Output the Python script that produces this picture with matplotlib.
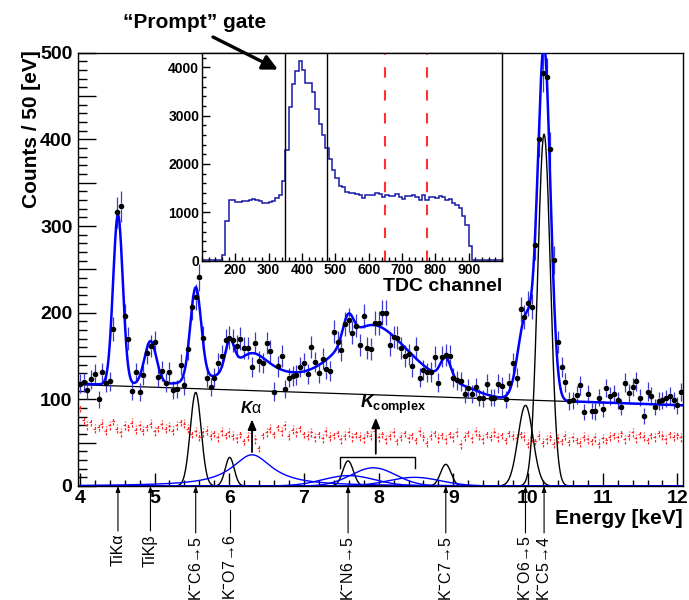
#!/usr/bin/env python3
"""Kaonic X-ray energy spectrum with fitted lines, TDC timing spectrum as inset."""

import matplotlib
matplotlib.use("Agg")
import matplotlib.pyplot as plt
import numpy as np
from matplotlib.ticker import MultipleLocator, FixedLocator, FuncFormatter

plt.rcParams['font.family'] = ['Liberation Sans', 'DejaVu Sans']
plt.rcParams['font.weight'] = 'bold'
plt.rcParams['mathtext.fontset'] = 'custom'
plt.rcParams['mathtext.rm'] = 'Liberation Sans'
plt.rcParams['mathtext.it'] = 'Liberation Sans:italic'

FIG_W, FIG_H = 689, 600

# ---- main spectrum: 50 eV bins, first bin centred at 4.00 keV ----
E_FIRST, E_BIN = 4.00, 0.05
E_RANGE = (3.975, 12.075)
COUNTS = [
    118, 120, 111, 123, 129, 100, 131, 119, 121,
    181, 316, 323, 196, 170,
    110, 131, 108, 128, 153, 161,
    166, 126, 133, 119, 132, 111, 112, 140, 116,
    158, 206, 218, 241, 171,
    125, 114, 125, 142, 150, 168, 171, 168,
    162,
    170, 159, 159, 137, 165, 144, 142, 165, 156, 109,
    138, 150, 112, 125, 127, 128, 137, 142, 129, 160,
    143, 130, 147, 135, 133, 178, 166, 157, 187, 192,
    177, 185, 163, 196, 159, 158, 188, 188, 200, 200,
    163, 172, 171, 159, 150, 152, 138, 159, 125, 134,
    131, 132, 149, 119, 149, 151, 150, 125, 122, 121,
    106, 113, 106, 114, 102, 101, 118, 102, 102, 118,
    115, 100, 119, 142, 125, 204, 195, 211, 207, 278,
    400, 477, 472, 389, 261, 166, 137, 120, 98, 99,
    105, 116, 85, 106, 87, 86, 102, 89, 113, 104,
    106, 99, 91, 119, 107, 114, 121, 102, 81, 109,
    104, 91, 98, 99, 101, 104, 99, 93, 108,
]

# delayed-window (background) spectrum, same binning
DELAYED = [
    90,
    76, 70, 74, 66,
    68, 72, 64, 70, 75, 66, 62, 70, 68, 73, 65, 70, 64, 68, 72, 63, 67, 71, 66, 69, 64,
    70, 74, 72, 66,
    60, 63, 57, 62, 64, 58, 61, 56, 63, 59, 62,
    58, 55, 60, 52, 57, 61, 54, 44, 59, 62,
    66, 60, 68, 63, 70, 58, 65, 62, 67, 60,
    58, 62, 56, 60, 55, 63, 57, 59, 61, 54, 58, 62, 56, 60, 57, 55, 61, 58, 63, 56,
    60, 54, 58, 62, 52, 57, 61, 55, 59, 53, 63, 57, 50, 58, 61, 55, 59, 54, 60, 56, 62, 48,
    57, 61, 55, 63, 58, 54, 60, 57, 62, 56, 59, 53, 61, 58, 55, 60, 57, 49,
    56, 52, 58, 50, 54, 57, 49, 55, 52, 58, 51, 56, 53, 50, 57, 54, 52, 56, 49, 55, 53, 57,
    59, 56, 61, 54, 58, 62, 55, 60, 57, 53, 59, 56, 61, 58, 54, 60, 57, 59, 56,
]
DELAYED_ERR = 5

# ---- fit results ----
BKG_LEFT, BKG_RIGHT = 117, 93
# narrow kaonic lines (black)
LINE_E = [5.551, 6.006, 7.591, 8.899, 9.966, 10.215]
LINE_A = [108, 33, 29, 25, 93, 406]
LINE_S = [0.073, 0.06, 0.07, 0.07, 0.10, 0.085]
# broad components (blue): K alpha (Lorentzian) + K complex
KALPHA_E, KALPHA_A, KALPHA_W = 6.305, 36, 0.33
COMPLEX_E = [7.60, 7.93, 8.48]
COMPLEX_A = [12, 21, 10]
COMPLEX_S = [0.35, 0.30, 0.35]
# components that only enter the total fit
TI_E = [4.51, 4.945]
TI_A = [196, 50]
TI_S = [0.065, 0.08]
EXTRA_E = [7.0, 8.0, 9.1]
EXTRA_A = [9, 42, 8]
EXTRA_S = [1.0, 0.5, 0.25]

LABEL_E = [4.51, 4.945, 5.551, 6.006, 7.591, 8.899, 9.966, 10.215]
LABEL_TEXT = ['TiKα', 'TiKβ', r'K$^{-}$C6→5', r'K$^{-}$O7→6', r'K$^{-}$N6→5',
              r'K$^{-}$C7→5', r'K$^{-}$O6→5', r'K$^{-}$C5→4']
LABEL_TOP_PX = [534, 534, 536, 535, 536, 536, 536, 536]
LABEL_HEAD = [True, True, True, False, True, True, True, True]

# ---- inset: TDC spectrum, 10-channel bins from 100 ----
TDC_FIRST, TDC_BIN = 100, 10
TDC_COUNTS = [
    10, 10, 10, 10, 10, 10,
    120, 820, 1260, 1250, 1220, 1220, 1230, 1230, 1260, 1270,
    1250, 1240, 1200, 1190, 1220, 1230, 1300, 1350, 1650, 2280,
    3170, 3660, 3920, 4120, 3950, 3680, 3680, 3480, 3140, 2820,
    2590, 2320, 2100, 1880, 1710, 1550, 1530, 1420, 1400, 1390,
    1370, 1360, 1300, 1360, 1350, 1360, 1390, 1380, 1310, 1360,
    1330, 1340, 1380, 1320, 1280, 1330, 1330, 1350, 1320, 1260,
    1350, 1260, 1320, 1310, 1290, 1330, 1310, 1250, 1280, 1200,
    1150, 1085, 930, 740, 300,
    20, 20, 20, 20, 20, 20, 20, 20, 20,
]
PROMPT_GATE = [350, 475]
DELAYED_GATE = [650, 775]

FIT_BLUE = '#0000ff'
ERR_BLUE = '#3a3ad0'
RED = '#ff2a2a'


def px_rect(left, top, right, bottom):
    return [left / FIG_W, 1 - bottom / FIG_H, (right - left) / FIG_W, (bottom - top) / FIG_H]


def gauss(x, mu, a, s):
    return a * np.exp(-0.5 * ((x - mu) / s) ** 2)


def lorentz(x, mu, a, w):
    return a / (1 + ((x - mu) / w) ** 2)


def background(x):
    return BKG_LEFT + (BKG_RIGHT - BKG_LEFT) * (x - E_RANGE[0]) / (E_RANGE[1] - E_RANGE[0])


def draw_main(fig):
    ax = fig.add_axes(px_rect(78, 52.7, 683, 486))
    energy = E_FIRST + E_BIN * np.arange(len(COUNTS))
    counts = np.array(COUNTS, dtype=float)
    delayed = np.array(DELAYED, dtype=float)

    # delayed-gate spectrum (red)
    dash = (0, (2.0, 1.2))
    ax.hlines(delayed, energy - E_BIN / 2, energy + E_BIN / 2, color=RED, lw=0.9, linestyles=dash)
    ax.vlines(energy, delayed - DELAYED_ERR, delayed + DELAYED_ERR, color=RED, lw=0.9, linestyles=dash)

    # fit components
    x = np.linspace(E_RANGE[0], E_RANGE[1], 2000)
    ax.plot(x, background(x), color='black', lw=0.9)
    total = background(x)
    for mu, a, s in zip(LINE_E, LINE_A, LINE_S):
        y = gauss(x, mu, a, s)
        total = total + y
        ax.plot(x, y, color='black', lw=1.0)
    y = lorentz(x, KALPHA_E, KALPHA_A, KALPHA_W)
    total = total + y
    ax.plot(x, y, color=FIT_BLUE, lw=1.0)
    for mu, a, s in zip(COMPLEX_E, COMPLEX_A, COMPLEX_S):
        y = gauss(x, mu, a, s)
        total = total + y
        ax.plot(x, y, color=FIT_BLUE, lw=1.0)
    for mu, a, s in zip(TI_E + EXTRA_E, TI_A + EXTRA_A, TI_S + EXTRA_S):
        total = total + gauss(x, mu, a, s)
    ax.plot(x, total, color=FIT_BLUE, lw=1.8, zorder=4)

    # data with Poisson errors (gap around marker, ROOT style)
    err = np.sqrt(counts)
    gap = 3.0
    ax.vlines(energy, counts + gap, counts + err, color=ERR_BLUE, lw=0.9, zorder=3)
    ax.vlines(energy, counts - err, counts - gap, color=ERR_BLUE, lw=0.9, zorder=3)
    ax.plot(energy, counts, 'o', ms=3.0, color='black', zorder=5)

    # K alpha and K complex markers
    ax.annotate('', xy=(KALPHA_E, 80), xytext=(KALPHA_E, 36),
                arrowprops=dict(arrowstyle='-|>,head_length=0.6,head_width=0.25', color='black', lw=1.3))
    ax.text(KALPHA_E - 0.01, 90, r'$K$α', ha='center', va='center', fontsize=11.5, fontweight='normal')
    br_y, br_low = 34, 21
    ax.plot([7.48, 7.48, 8.484, 8.484], [br_low, br_y, br_y, br_low], color='black', lw=1.0)
    ax.annotate('', xy=(7.962, 82), xytext=(7.962, br_y),
                arrowprops=dict(arrowstyle='-|>,head_length=0.6,head_width=0.25', color='black', lw=1.3))
    ax.text(7.745, 94, r'$K_{\mathrm{complex}}$', ha='left', va='center', fontsize=13, fontweight='normal')

    ax.set_xlim(*E_RANGE)
    ax.set_ylim(0, 500)
    ax.xaxis.set_major_locator(MultipleLocator(1))
    ax.xaxis.set_minor_locator(MultipleLocator(0.2))
    ax.yaxis.set_major_locator(MultipleLocator(50))
    ax.yaxis.set_minor_locator(MultipleLocator(10))
    ax.yaxis.set_major_formatter(FuncFormatter(lambda v, p: f"{int(v)}" if int(v) % 100 == 0 else ""))
    ax.tick_params(axis='x', which='major', direction='in', length=9.5, width=1, labelsize=14, pad=3)
    ax.tick_params(axis='x', which='minor', direction='in', length=4.5, width=1)
    ax.tick_params(axis='y', which='major', direction='in', length=13, width=1, labelsize=14, pad=4)
    ax.tick_params(axis='y', which='minor', direction='in', length=6.5, width=1)
    for sp in ax.spines.values():
        sp.set_linewidth(1.0)

    # line labels below the energy axis
    trans = ax.get_xaxis_transform()
    ax_h = 486 - 52.7
    for e, lab, top, head in zip(LABEL_E, LABEL_TEXT, LABEL_TOP_PX, LABEL_HEAD):
        ax.text(e, (486 - top) / ax_h, lab, transform=trans, rotation=90, ha='center', va='top',
                fontsize=11.5, fontweight='normal', clip_on=False)
        tail = (486 - (top - 3)) / ax_h
        if head:
            ax.annotate('', xy=(e, 0), xycoords=trans, xytext=(e, tail), textcoords=trans,
                        arrowprops=dict(arrowstyle='-|>,head_length=0.35,head_width=0.13',
                                        color='black', lw=0.8, shrinkA=0, shrinkB=0))
        else:
            # tick label sits in the way: plain line that stops below it
            ax.plot([e, e], [tail, (486 - 510) / ax_h], transform=trans, color='black',
                    lw=0.8, clip_on=False)

    fig.text(683 / FIG_W, 1 - 518 / FIG_H, 'Energy [keV]', ha='right', va='center', fontsize=15)
    fig.text(32 / FIG_W, 1 - 50 / FIG_H, 'Counts / 50 [eV]', ha='center', va='top',
             rotation=90, fontsize=15)
    return ax


def draw_inset(fig):
    axi = fig.add_axes(px_rect(202, 52.7, 502, 260.7))
    axi.set_facecolor('white')
    edges = TDC_FIRST + TDC_BIN * np.arange(len(TDC_COUNTS) + 1)
    axi.stairs(TDC_COUNTS, edges, color='#1a1aa6', lw=1.1)
    for ch in PROMPT_GATE:
        axi.axvline(ch, color='black', lw=1.0)
    for ch in DELAYED_GATE:
        axi.axvline(ch, color='#ff3030', lw=1.5, ls=(0, (5, 6)))
    axi.set_xlim(100, 1000)
    axi.set_ylim(0, 4300)
    axi.xaxis.set_major_locator(FixedLocator(np.arange(200, 1000, 100)))
    axi.xaxis.set_minor_locator(MultipleLocator(20))
    axi.yaxis.set_major_locator(MultipleLocator(1000))
    axi.yaxis.set_minor_locator(MultipleLocator(200))
    axi.tick_params(which='major', direction='in', length=5.5, width=1, labelsize=10, pad=2)
    axi.tick_params(which='minor', direction='in', length=2.8, width=1)
    for sp in axi.spines.values():
        sp.set_linewidth(1.0)
    fig.text(502 / FIG_W, 1 - 287 / FIG_H, 'TDC channel', ha='right', va='center', fontsize=14)

    fig.text(195 / FIG_W, 1 - 22 / FIG_H, '\u201cPrompt\u201d gate', ha='center', va='center',
             fontsize=15)
    axi.annotate('', xy=(328, 3950), xytext=(213 / FIG_W, 1 - 37 / FIG_H),
                 textcoords='figure fraction', annotation_clip=False,
                 arrowprops=dict(arrowstyle='-|>,head_length=0.9,head_width=0.45',
                                 color='black', lw=2.4, shrinkA=0, shrinkB=0))
    return axi


def main():
    fig = plt.figure(figsize=(FIG_W / 100, FIG_H / 100), dpi=100)
    draw_main(fig)
    draw_inset(fig)
    fig.savefig('out.png', dpi=100)
    plt.close(fig)


if __name__ == '__main__':
    main()
